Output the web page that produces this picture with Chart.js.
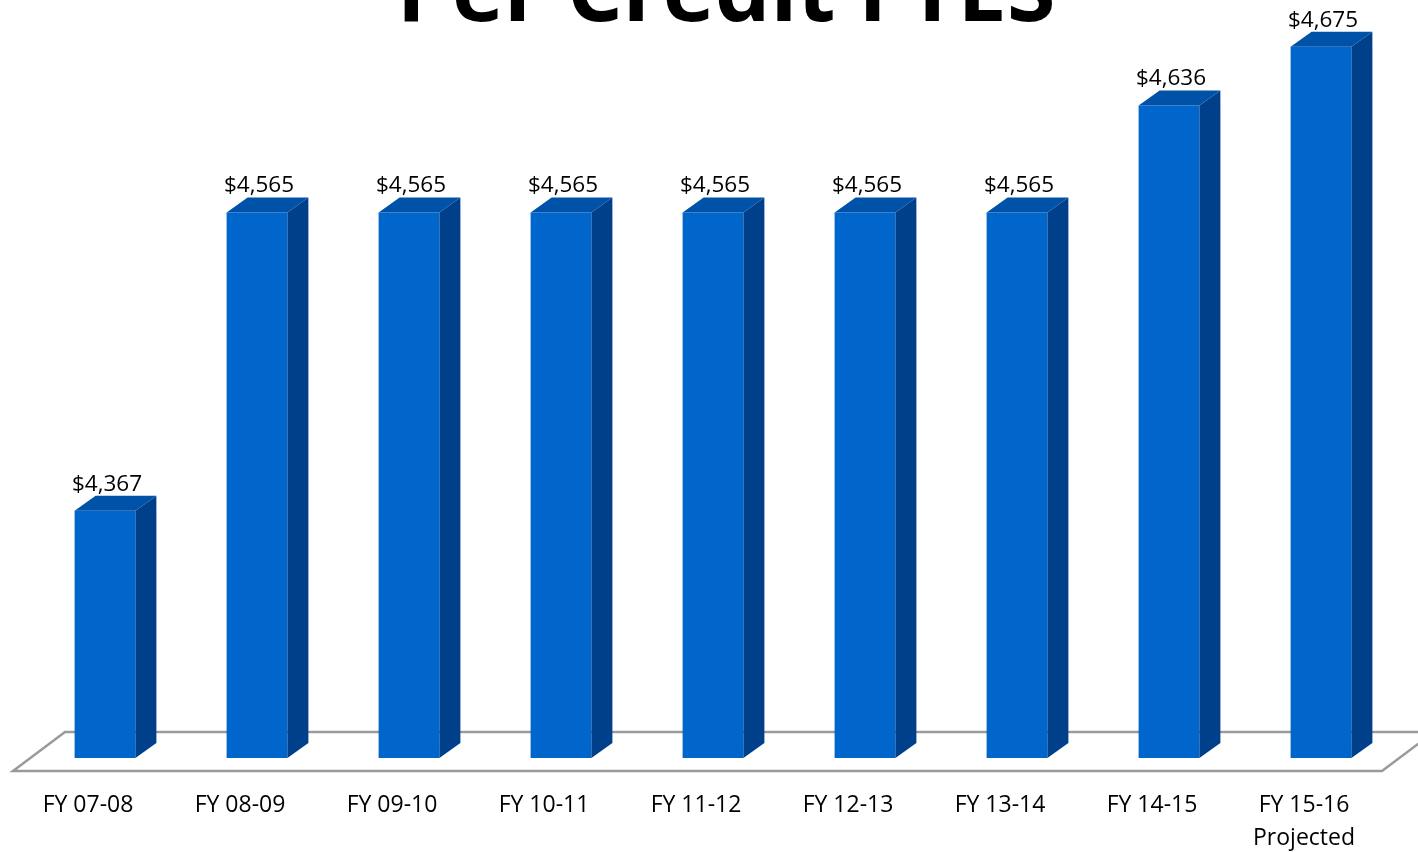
<!DOCTYPE html>
<html>
<head>
<meta charset="utf-8">
<script src="https://cdn.jsdelivr.net/npm/chart.js@4.4.1/dist/chart.umd.min.js"></script>
<style>
  html, body { margin: 0; padding: 0; background: #ffffff; overflow: hidden; }
  #wrap { width: 1418px; height: 852px; position: relative; }
</style>
</head>
<body>
<div id="wrap"><canvas id="c" width="1418" height="852"></canvas></div>
<script>
const chartTitle = "Per Credit FTES";
const categories = [
  "FY 07-08", "FY 08-09", "FY 09-10", "FY 10-11", "FY 11-12",
  "FY 12-13", "FY 13-14", "FY 14-15", ["FY 15-16", "Projected"]
];
const perCreditValues = [4367, 4565, 4565, 4565, 4565, 4565, 4565, 4636, 4675];
const valueLabels = ["$4,367", "$4,565", "$4,565", "$4,565", "$4,565", "$4,565", "$4,565", "$4,636", "$4,675"];

const FRONT = "#0066cc";
const SIDE = "#00408a";
const TOP = "#0052a8";
const DX = 21, DY = -15;

const floorPlugin = {
  id: "floor3d",
  beforeDatasetsDraw(chart) {
    const ctx = chart.ctx;
    const a = chart.chartArea;
    const fy = a.bottom + 13, by = a.bottom - 26;
    const fl = a.left - 16, fr = a.right - 15;
    ctx.save();
    ctx.beginPath();
    ctx.moveTo(fl, fy);
    ctx.lineTo(fl + 52, by);
    ctx.lineTo(fr + 52, by);
    ctx.lineTo(fr, fy);
    ctx.closePath();
    ctx.fillStyle = "#ffffff";
    ctx.fill();
    ctx.strokeStyle = "#9a9a9a";
    ctx.lineWidth = 2.5;
    ctx.stroke();
    ctx.restore();
  },
  afterDatasetsDraw(chart) {
    const ctx = chart.ctx;
    const a = chart.chartArea;
    const meta = chart.getDatasetMeta(0);
    ctx.save();
    meta.data.forEach((bar, i) => {
      const p = bar.getProps(["x", "y", "base", "width"], true);
      const l = p.x - p.width / 2, r = p.x + p.width / 2;
      const t = p.y, b = Math.min(p.base, a.bottom);
      // side
      ctx.beginPath();
      ctx.moveTo(r, t);
      ctx.lineTo(r + DX, t + DY);
      ctx.lineTo(r + DX, b + DY);
      ctx.lineTo(r, b);
      ctx.closePath();
      ctx.fillStyle = SIDE;
      ctx.fill();
      // top
      ctx.beginPath();
      ctx.moveTo(l, t);
      ctx.lineTo(l + DX, t + DY);
      ctx.lineTo(r + DX, t + DY);
      ctx.lineTo(r, t);
      ctx.closePath();
      ctx.fillStyle = TOP;
      ctx.fill();
      // value label
      ctx.fillStyle = "#000000";
      ctx.font = "22.5px 'Open Sans'";
      ctx.textAlign = "center";
      ctx.textBaseline = "alphabetic";
      ctx.fillText(valueLabels[i], p.x + 2, t - 20);
    });
    // title (clipped at top of the page)
    ctx.fillStyle = "#000000";
    ctx.font = "bold 88px 'Open Sans'";
    ctx.textAlign = "center";
    ctx.textBaseline = "alphabetic";
    ctx.fillText(chartTitle, 726, 21);
    ctx.restore();
  }
};

new Chart(document.getElementById("c"), {
  type: "bar",
  data: {
    labels: categories,
    datasets: [{
      data: perCreditValues,
      backgroundColor: FRONT,
      borderWidth: 0,
      barPercentage: 0.8,
      categoryPercentage: 0.5
    }]
  },
  options: {
    responsive: false,
    animation: false,
    devicePixelRatio: 1,
    layout: { padding: { left: 29, right: 21, top: 0, bottom: 0 } },
    plugins: { legend: { display: false }, tooltip: { enabled: false }, title: { display: false } },
    scales: {
      x: {
        grid: { display: false, drawTicks: false },
        border: { display: false },
        ticks: {
          color: "#000000",
          font: { family: "'Open Sans'", size: 23, lineHeight: 1.43 },
          padding: 31,
          labelOffset: -17,
          maxRotation: 0,
          autoSkip: false
        },
        afterFit(scale) { scale.height = 94; }
      },
      y: {
        display: false,
        min: 4203,
        max: 4706
      }
    }
  },
  plugins: [floorPlugin]
});
</script>
</body>
</html>
